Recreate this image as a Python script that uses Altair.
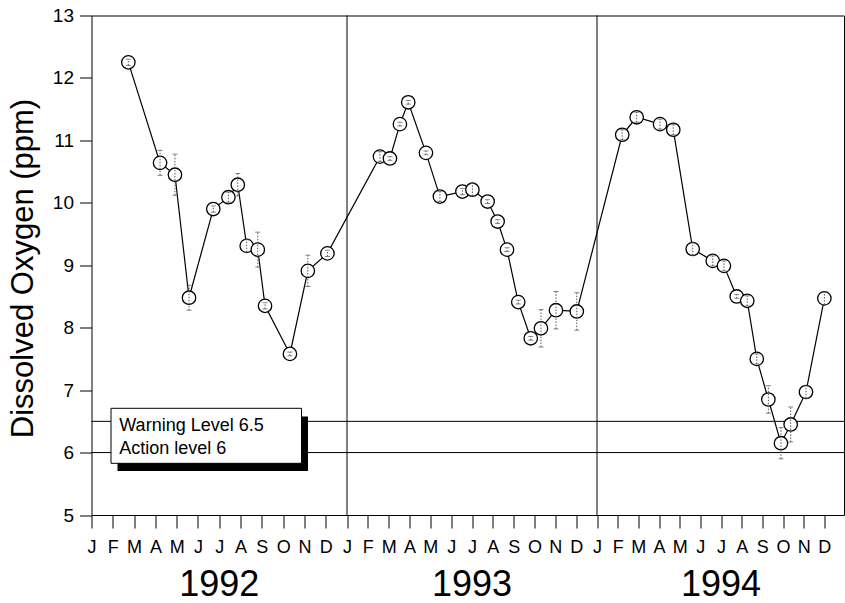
import json
import altair as alt
import pandas as pd

# ---- data (month index: 0 = Jan 1992) ----
months = [1.73, 3.22, 3.92, 4.58, 5.72, 6.43, 6.87, 7.29, 7.81, 8.15, 9.32, 10.16, 11.08,
          13.58, 14.06, 14.54, 14.94, 15.79, 16.46, 17.54, 18.02, 18.75, 19.23, 19.68,
          20.22, 20.82, 21.31, 22.03, 23.03,
          25.22, 25.92, 27.05, 27.69, 28.63, 29.60, 30.14, 30.76, 31.27, 31.73, 32.29,
          32.90, 33.37, 34.11, 35.00]
oxygen = [12.25, 10.64, 10.45, 8.48, 9.90, 10.09, 10.29, 9.31, 9.25, 8.35, 7.58, 8.91, 9.19,
          10.74, 10.71, 11.26, 11.61, 10.80, 10.10, 10.18, 10.21, 10.02, 9.70, 9.25,
          8.41, 7.83, 7.99, 8.28, 8.26,
          11.09, 11.37, 11.26, 11.17, 9.26, 9.07, 8.99, 8.50, 8.43, 7.50, 6.85,
          6.15, 6.45, 6.97, 8.47]
errors = [0.05, 0.20, 0.33, 0.20, 0.05, 0.08, 0.18, 0.10, 0.28, 0.05, 0.03, 0.25, 0.05,
          0.08, 0.03, 0.03, 0.03, 0.03, 0.08, 0.05, 0.10, 0.03, 0.03, 0.03,
          0.03, 0.03, 0.30, 0.30, 0.30,
          0.08, 0.08, 0.08, 0.08, 0.10, 0.08, 0.08, 0.03, 0.08, 0.08, 0.22,
          0.25, 0.28, 0.10, 0.10]
month_letters = ["J", "F", "M", "A", "M", "J", "J", "A", "S", "O", "N", "D"]
years = ["1992", "1993", "1994"]
levels = [6.5, 6.0]
level_labels = ["Warning Level 6.5", "Action level 6"]
year_breaks = [12, 24]
y_ticks = [5, 6, 7, 8, 9, 10, 11, 12, 13]

df = pd.DataFrame({
    "m": months,
    "v": oxygen,
    "lo": [v - e for v, e in zip(oxygen, errors)],
    "hi": [v + e for v, e in zip(oxygen, errors)],
    "order": list(range(len(months))),
})
lev_df = pd.DataFrame({"level": levels})
brk_df = pd.DataFrame({"m": year_breaks})
yr_df = pd.DataFrame({"year": years, "m": [12 * i + 6 for i in range(len(years))]})
one = pd.DataFrame({"k": [0]})

W, H = 752.5, 499.5
FONT = "Liberation Sans"

xscale = alt.Scale(domain=[0, 12, 24, 35.95], range=[0, 255.5, 505.5, W], nice=False, zero=False)
yscale = alt.Scale(domain=[5, 13], nice=False, zero=False)

label_expr = json.dumps(month_letters) + "[datum.value % 12]"
xaxis = alt.Axis(values=list(range(36)), labelExpr=label_expr, title=None, grid=False,
                 domain=False, tickSize=13, tickColor="black", tickWidth=1,
                 labelFontSize=18, labelColor="black", labelPadding=10, labelFont=FONT,
                 labelFlush=False, labelOverlap=False)
yaxis = alt.Axis(values=y_ticks, title=None, grid=False, domain=False, tickSize=12,
                 tickColor="black", tickWidth=1, labelFontSize=19, labelColor="black",
                 labelPadding=6, labelFont=FONT, labelFlush=False)

X = alt.X("m:Q", scale=xscale, axis=xaxis)

def Y(field):
    return alt.Y(field, scale=yscale, axis=yaxis)

vlines = alt.Chart(brk_df).mark_rule(color="black", strokeWidth=1).encode(x=X)
hlines = alt.Chart(lev_df).mark_rule(color="black", strokeWidth=1).encode(y=Y("level:Q"))

line = alt.Chart(df).mark_line(color="black", strokeWidth=1.2).encode(
    x=X, y=Y("v:Q"), order="order:Q")
pts = alt.Chart(df).mark_point(shape="circle", size=180, fill="white", fillOpacity=1,
                               stroke="black", strokeWidth=1.3, opacity=1).encode(
    x=X, y=Y("v:Q"))
ebar = alt.Chart(df).mark_rule(color="#555", strokeWidth=1, strokeDash=[1.5, 1.5]).encode(
    x=X, y=Y("lo:Q"), y2="hi:Q")
cap_lo = alt.Chart(df).mark_tick(orient="horizontal", size=5, thickness=1, color="#555").encode(
    x=X, y=Y("lo:Q"))
cap_hi = alt.Chart(df).mark_tick(orient="horizontal", size=5, thickness=1, color="#555").encode(
    x=X, y=Y("hi:Q"))

shadow = alt.Chart(one).mark_rect(color="black").encode(
    x=alt.value(26), x2=alt.value(216.5), y=alt.value(401), y2=alt.value(455.5))
box = alt.Chart(one).mark_rect(fill="white", stroke="black", strokeWidth=1).encode(
    x=alt.value(19.5), x2=alt.value(210), y=alt.value(392.8), y2=alt.value(447.8))
leg_texts = [
    alt.Chart(one).mark_text(text=t, align="left", baseline="alphabetic", fontSize=18,
                             font=FONT, color="black").encode(
        x=alt.value(27.8), y=alt.value(yy))
    for t, yy in zip(level_labels, [415.2, 438.5])
]

yrs = alt.Chart(yr_df).mark_text(fontSize=36, font=FONT, baseline="alphabetic",
                                 align="center", color="black").encode(
    x=X, y=alt.value(580), text="year:N")

ytitle = alt.Chart(one).mark_text(text="Dissolved Oxygen (ppm)", angle=270, fontSize=31,
                                  font=FONT, baseline="alphabetic", align="center",
                                  color="black").encode(
    x=alt.value(-58.2), y=alt.value(253))

chart = alt.layer(vlines, hlines, line, pts, ebar, cap_lo, cap_hi, shadow, box, *leg_texts,
                  yrs, ytitle).properties(
    width=W, height=H,
    autosize=alt.AutoSizeParams(type="none"),
    padding={"left": 91.5, "top": 15.5, "right": 1, "bottom": 88},
    background="white",
).configure_view(stroke="black", strokeWidth=1)

chart.save("out.html", embed_options={"renderer": "svg", "actions": False})
